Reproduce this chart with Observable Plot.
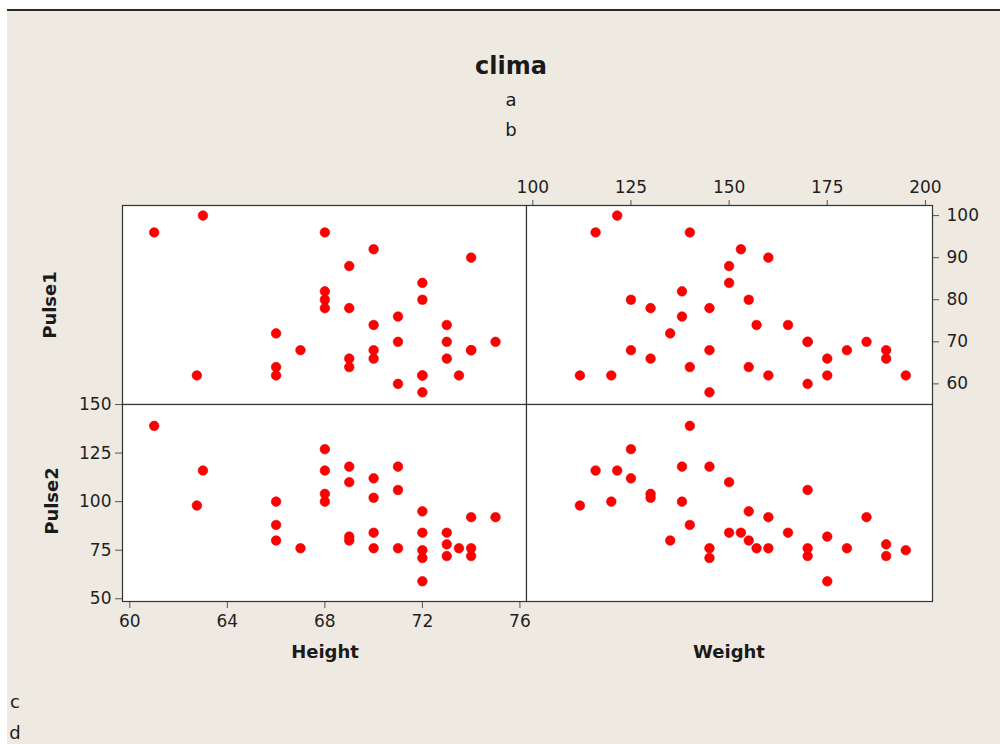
<!DOCTYPE html>
<html>
<head>
<meta charset="utf-8">
<script src="https://cdn.jsdelivr.net/npm/d3@7"></script>
<script src="https://cdn.jsdelivr.net/npm/@observablehq/plot@0.6"></script>
<style>
html,body{margin:0;padding:0;background:#fff;}
#root{position:relative;width:1000px;height:744px;overflow:hidden;font-family:"DejaVu Sans",sans-serif;color:#1a1a1a;}
#bg{position:absolute;left:7px;top:11px;right:0;bottom:0;background:#EEEAE1;}
#rule{position:absolute;left:7px;top:9px;width:993px;height:2px;background:#2b2b22;}
.t{position:absolute;white-space:nowrap;line-height:1;transform:translate(-50%,-50%);}
.b{font-weight:bold;}
</style>
</head>
<body>
<div id="root">
  <div id="bg"></div>
  <div id="rule"></div>
  <div class="t b" style="left:511px;top:66px;font-size:24px;">clima</div>
  <div class="t" style="left:511px;top:100px;font-size:18px;">a</div>
  <div class="t" style="left:511px;top:130px;font-size:18px;">b</div>
  <div class="t b" style="left:325px;top:652px;font-size:18px;">Height</div>
  <div class="t b" style="left:729px;top:652px;font-size:18px;">Weight</div>
  <div class="t b" style="left:50px;top:305px;font-size:18px;transform:translate(-50%,-50%) rotate(-90deg);">Pulse1</div>
  <div class="t b" style="left:52px;top:501px;font-size:18px;transform:translate(-50%,-50%) rotate(-90deg);">Pulse2</div>
  <div class="t" style="left:15px;top:702px;font-size:18px;">c</div>
  <div class="t" style="left:15px;top:733px;font-size:18px;">d</div>
</div>
<script>
// Data (one entry per student)
const height = [61, 63, 62.75, 68, 70, 69, 72, 68, 68, 72, 68, 69, 71, 73, 70, 66, 75, 71, 73, 70, 70, 69, 73, 69, 66, 66, 72, 73.5, 72, 74, 71, 72, 74, 74, 67];
const weight = [140, 121.5, 112, 116, 153, 150, 150, 138, 125, 155, 130, 145, 138, 165, 157, 135, 185, 170, 170, 125, 130, 175, 190, 155, 140, 120, 175, 160, 195, 160, 170, 145, 190, 180, 145];
const pulse1 = [96, 100, 62, 96, 92, 88, 84, 82, 80, 80, 78, 78, 76, 74, 74, 72, 70, 70, 70, 68, 66, 66, 66, 64, 64, 62, 62, 62, 62, 90, 60, 58, 68, 68, 68];
const pulse2 = [139, 116, 98, 116, 84, 110, 84, 100, 127, 95, 104, 118, 118, 84, 76, 80, 92, 106, 72, 112, 102, 82, 78, 80, 88, 100, 59, 76, 75, 92, 76, 71, 72, 76, 76];

const heightTicks = [60, 64, 68, 72, 76];
const weightTicks = [100, 125, 150, 175, 200];
const pulse1Ticks = [60, 70, 80, 90, 100];
const pulse2Ticks = [50, 75, 100, 125, 150];

const rows = height.map((h, i) => ({h, w: weight[i], p1: pulse1[i], p2: pulse2[i]}));

const FONT = '"DejaVu Sans", sans-serif';
const hDom = [59.7, 76.27], wDom = [98.4, 201.8], p1Dom = [55.1, 102.4], p2Dom = [48.6, 150];
const dotOpts = {r: 4.8, fill: "#ff0000", stroke: "#e00000", strokeWidth: 0.6};
const styleObj = {background: "transparent", overflow: "visible", fontFamily: FONT, fontSize: "17px", color: "#1f1f1f"};
const root = document.getElementById("root");

function place(svg, left, top) {
  svg.style.position = "absolute";
  svg.style.left = left + "px";
  svg.style.top = top + "px";
  svg.style.maxWidth = "none";
  root.appendChild(svg);
}

const PW_L = 404, PW_R = 406, PH_T = 199, PH_B = 197;
const X0 = 122, XM = 526, Y0 = 205, YM = 404;

// Top-left: Height vs Pulse1
place(Plot.plot({
  width: PW_L, height: PH_T, margin: 0,
  x: {domain: hDom, axis: null}, y: {domain: p1Dom, axis: null},
  style: styleObj,
  marks: [
    Plot.frame({fill: "white"}),
    Plot.dot(rows, {x: "h", y: "p1", ...dotOpts}),
    Plot.frame({stroke: "#333", strokeWidth: 1.2})
  ]
}), X0, Y0);

// Top-right: Weight vs Pulse1 (top and right axes)
const TR_MT = 35, TR_MR = 70;
place(Plot.plot({
  width: PW_R + TR_MR, height: PH_T + TR_MT,
  marginTop: TR_MT, marginRight: TR_MR, marginLeft: 0, marginBottom: 0,
  x: {domain: wDom}, y: {domain: p1Dom},
  style: styleObj,
  marks: [
    Plot.frame({fill: "white"}),
    Plot.axisX({anchor: "top", ticks: weightTicks, tickSize: 6, tickPadding: 7, label: null, fontSize: 17, stroke: "#555", fill: "#1f1f1f"}),
    Plot.axisY({anchor: "right", ticks: pulse1Ticks, tickSize: 6, tickPadding: 8, label: null, fontSize: 17, stroke: "#555", fill: "#1f1f1f"}),
    Plot.dot(rows, {x: "w", y: "p1", ...dotOpts}),
    Plot.frame({stroke: "#333", strokeWidth: 1.2})
  ]
}), XM, Y0 - TR_MT);

// Bottom-left: Height vs Pulse2 (left and bottom axes)
const BL_ML = 70, BL_MB = 40;
place(Plot.plot({
  width: PW_L + BL_ML, height: PH_B + BL_MB,
  marginLeft: BL_ML, marginBottom: BL_MB, marginTop: 0, marginRight: 0,
  x: {domain: hDom}, y: {domain: p2Dom},
  style: styleObj,
  marks: [
    Plot.frame({fill: "white"}),
    Plot.axisX({anchor: "bottom", ticks: heightTicks, tickSize: 7, tickPadding: 6, label: null, fontSize: 17, stroke: "#555", fill: "#1f1f1f"}),
    Plot.axisY({anchor: "left", ticks: pulse2Ticks, tickSize: 7, tickPadding: 4, label: null, fontSize: 17, stroke: "#555", fill: "#1f1f1f"}),
    Plot.dot(rows, {x: "h", y: "p2", ...dotOpts}),
    Plot.frame({stroke: "#333", strokeWidth: 1.2})
  ]
}), X0 - BL_ML, YM);

// Bottom-right: Weight vs Pulse2
place(Plot.plot({
  width: PW_R, height: PH_B, margin: 0,
  x: {domain: wDom, axis: null}, y: {domain: p2Dom, axis: null},
  style: styleObj,
  marks: [
    Plot.frame({fill: "white"}),
    Plot.dot(rows, {x: "w", y: "p2", ...dotOpts}),
    Plot.frame({stroke: "#333", strokeWidth: 1.2})
  ]
}), XM, YM);
</script>
</body>
</html>
